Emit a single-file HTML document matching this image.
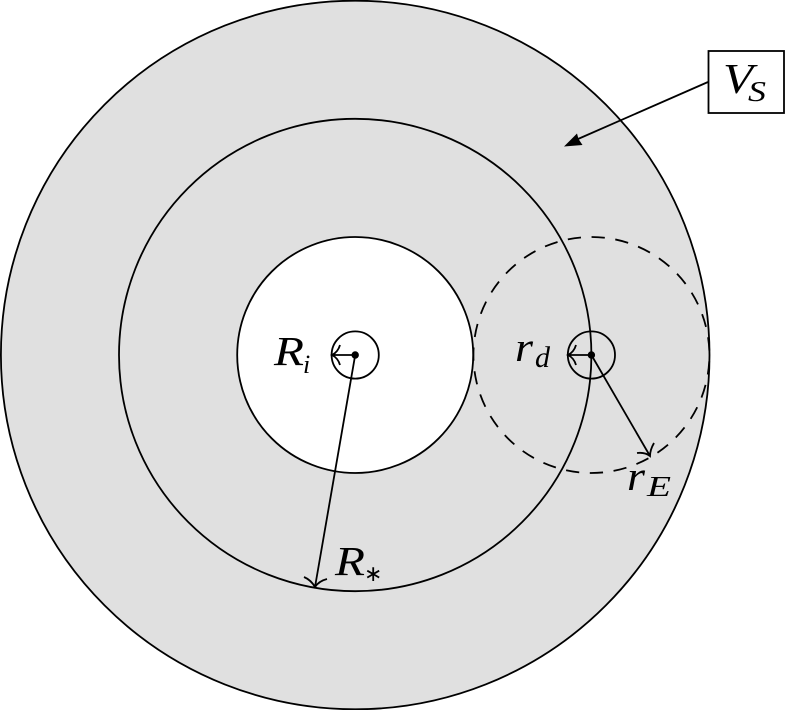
<!DOCTYPE html>
<html><head><meta charset="utf-8"><style>html,body{margin:0;padding:0;background:#fff}svg{display:block}text{font-family:"Liberation Serif",serif;font-style:italic;fill:#000}</style></head><body>
<svg width="785" height="710" viewBox="0 0 785 710" xmlns="http://www.w3.org/2000/svg">
<g stroke="#000" stroke-width="1.8" fill="none">
<circle cx="355.200" cy="355" r="354.300" fill="#e0e0e0"/>
<circle cx="355.200" cy="355" r="236.200"/>
<circle cx="355.200" cy="355" r="118" fill="#fff"/>
<circle cx="355.200" cy="355" r="23.600"/>
<circle cx="591.400" cy="355" r="118" stroke-dasharray="13.300 10.600" stroke-dashoffset="-6.300"/>
<circle cx="591.400" cy="355" r="23.600"/>
<path d="M355.200 355H333M340 345Q338 352 332 355Q338 358 340 365"/>
<path d="M591.400 355H569M576 345Q574 352 568 355Q574 358 576 365"/>
<path d="M355.200 355L315 587M304 577Q311 580 315 587Q319 581 327 579"/>
<path d="M591.400 355L650 456M637 453Q645 452 650 456Q650 450 654 443"/>
<rect x="708.500" y="51" width="75.500" height="62" fill="#fff"/>
<path d="M708 82L578 139"/>
</g>
<path d="M564 146.500L577 133.500L578.500 139L582.500 145Z" fill="#000"/>
<circle cx="355.200" cy="355" r="3.700"/><circle cx="591.400" cy="355" r="3.700"/>
<text x="274" y="365" font-size="41" textLength="30" lengthAdjust="spacingAndGlyphs">R</text>
<text x="303" y="373" font-size="26">i</text>
<text x="515" y="361" font-size="41" textLength="18" lengthAdjust="spacingAndGlyphs">r</text>
<text x="535" y="367" font-size="30">d</text>
<text x="627" y="490" font-size="41" textLength="18" lengthAdjust="spacingAndGlyphs">r</text>
<text x="647" y="496" font-size="29" textLength="24" lengthAdjust="spacingAndGlyphs">E</text>
<text x="335" y="575" font-size="41" textLength="30" lengthAdjust="spacingAndGlyphs">R</text>
<text x="364" y="581" font-size="22" style="font-style:normal">∗</text>
<text x="723" y="93" font-size="42" textLength="30" lengthAdjust="spacingAndGlyphs">V</text>
<text x="748" y="101" font-size="29" textLength="18" lengthAdjust="spacingAndGlyphs">S</text>
</svg>
</body></html>
